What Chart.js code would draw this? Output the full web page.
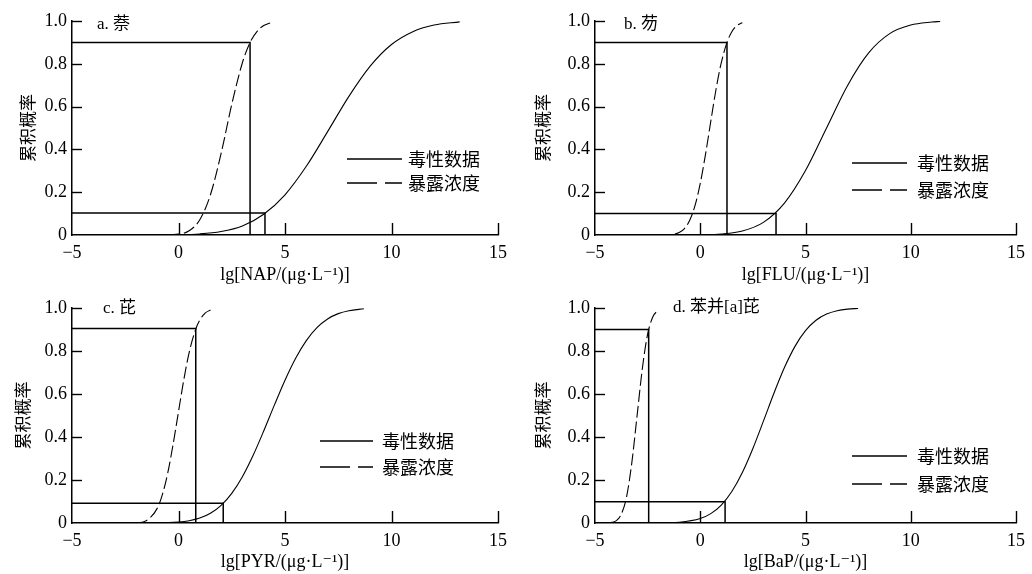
<!DOCTYPE html>
<html><head><meta charset="utf-8">
<script src="https://cdn.jsdelivr.net/npm/chart.js@4.4.1/dist/chart.umd.min.js"></script>
<style>
html,body{margin:0;padding:0;background:#fff;}
#wrap{position:relative;width:1032px;height:574px;overflow:hidden;background:#fff;}
canvas{position:absolute;}
</style></head><body>
<div id="wrap">
<canvas id="cA" width="516" height="287" style="left:0;top:0"></canvas>
<canvas id="cB" width="516" height="287" style="left:516px;top:0"></canvas>
<canvas id="cC" width="516" height="287" style="left:0;top:287px"></canvas>
<canvas id="cD" width="516" height="287" style="left:516px;top:287px"></canvas>
</div>
<script>
// ---- text ----
const panelTitles = ['a. 萘', 'b. 芴', 'c. 芘', 'd. 苯并[a]芘'];
const xAxisTitles = ['lg[NAP/(μg·L⁻¹)]', 'lg[FLU/(μg·L⁻¹)]', 'lg[PYR/(μg·L⁻¹)]', 'lg[BaP/(μg·L⁻¹)]'];
const yAxisTitle = '累积概率';
const seriesNames = ['毒性数据', '暴露浓度'];
const xTickValues = [-5, 0, 5, 10, 15];
const yTickValues = [0, 0.2, 0.4, 0.6, 0.8, 1.0];

// ---- a. NAP ----
const napToxX = [-5, -2, 0, 1, 2, 3, 4, 5, 6, 7, 8, 9, 10, 11, 12, 13.2];
const napToxY = [0, 0.0001, 0.0014, 0.005, 0.016, 0.042, 0.097, 0.188, 0.321, 0.483, 0.648, 0.789, 0.890, 0.950, 0.981, 0.996];
const napExpX = [-5, -1, 0, 0.5, 1.0, 1.5, 2.0, 2.5, 3.0, 3.36, 3.7, 4.0, 4.3];
const napExpY = [0, 0.0001, 0.004, 0.020, 0.071, 0.188, 0.381, 0.610, 0.805, 0.900, 0.953, 0.979, 0.991];

// ---- b. FLU ----
const fluToxX = [-5, -1, 0, 1, 2, 3, 4, 5, 6, 7, 8, 9, 10, 11, 11.4];
const fluToxY = [0, 0.0001, 0.0009, 0.0046, 0.0186, 0.059, 0.149, 0.301, 0.500, 0.699, 0.851, 0.941, 0.981, 0.995, 0.998];
const fluExpX = [-5, -1.5, -1.0, -0.75, -0.5, -0.25, 0, 0.25, 0.5, 0.75, 1.0, 1.27, 1.5, 1.75, 2.0];
const fluExpY = [0, 0.001, 0.012, 0.030, 0.069, 0.137, 0.241, 0.377, 0.531, 0.681, 0.805, 0.900, 0.950, 0.979, 0.992];

// ---- c. PYR ----
const pyrToxX = [-5, -1, 0, 0.5, 1, 1.5, 2, 2.5, 3, 3.5, 4, 4.5, 5, 5.5, 6, 6.5, 7, 7.5, 8, 8.7];
const pyrToxY = [0, 0.0007, 0.0046, 0.0106, 0.0228, 0.0449, 0.0817, 0.1377, 0.2154, 0.3139, 0.4278, 0.5483, 0.6643, 0.7664, 0.8485, 0.9088, 0.9491, 0.9738, 0.9875, 0.9962];
const pyrExpX = [-5, -2.0, -1.5, -1.0, -0.75, -0.5, -0.25, 0, 0.25, 0.5, 0.81, 1.0, 1.25, 1.5];
const pyrExpY = [0, 0.0012, 0.012, 0.068, 0.134, 0.235, 0.368, 0.518, 0.667, 0.793, 0.902, 0.944, 0.976, 0.991];

// ---- d. BaP ----
const bapToxX = [-5, -2, -1, 0, 0.5, 1, 1.5, 2, 2.5, 3, 3.5, 4, 4.5, 5, 5.5, 6, 6.5, 7, 7.5];
const bapToxY = [0, 0.0004, 0.0035, 0.0207, 0.0436, 0.0835, 0.1462, 0.2346, 0.3465, 0.4737, 0.6037, 0.7231, 0.8215, 0.8944, 0.9428, 0.9718, 0.9874, 0.9949, 0.9981];
const bapExpX = [-5, -4.5, -4.0, -3.75, -3.5, -3.25, -3.0, -2.75, -2.5, -2.25, -2.0];
const bapExpY = [0, 0.0002, 0.010, 0.041, 0.122, 0.281, 0.500, 0.719, 0.878, 0.959, 0.990];

// ---- cut-off guide lines (exposure 90 %, toxicity ~10 %) ----
const cutX90 = [3.36, 1.27, 0.81, -2.45];
const cutY90 = [0.90, 0.90, 0.905, 0.90];
const cutX10 = [4.06, 3.60, 2.10, 1.18];
const cutY10 = [0.103, 0.101, 0.092, 0.099];

const toxX = [napToxX, fluToxX, pyrToxX, bapToxX];
const toxY = [napToxY, fluToxY, pyrToxY, bapToxY];
const expX = [napExpX, fluExpX, pyrExpX, bapExpX];
const expY = [napExpY, fluExpY, pyrExpY, bapExpY];

// ---- layout (pixels, local to each canvas) ----
const layouts = [
  {id:'cA', yW:72, xH:52, padR:18, padT:21, yTitlePad:17, title:[97,25], leg:[347,402,408,159,183]},
  {id:'cB', yW:79, xH:52, padR:11, padT:21, yTitlePad:16, title:[108,25], leg:[336,391,401,163,190]},
  {id:'cC', yW:72, xH:51, padR:18, padT:21, yTitlePad:12, title:[103,22], leg:[320,373,382,154,180]},
  {id:'cD', yW:79, xH:51, padR:11, padT:21, yTitlePad:16, title:[157,21], leg:[336,391,401,169,197]}
];

const SERIF = "'Liberation Serif', 'DejaVu Serif', serif";
const CJK = "'Noto Sans CJK SC', sans-serif";
const MIXED = "'Liberation Serif', 'Noto Sans CJK SC', serif";

const pts = (xs, ys) => xs.map((x, i) => ({x, y: ys[i]}));

const inwardTicks = {
  id: 'inwardTicks',
  afterDatasetsDraw(chart) {
    const {ctx, chartArea} = chart;
    const xs = chart.scales.x, ys = chart.scales.y;
    ctx.save();
    ctx.strokeStyle = '#000';
    ctx.lineWidth = 1.4;
    xs.ticks.forEach(t => {
      if (t.value === xs.min) return;
      const px = Math.round(xs.getPixelForValue(t.value)) + 0.5;
      ctx.beginPath(); ctx.moveTo(px, chartArea.bottom); ctx.lineTo(px, chartArea.bottom - 12); ctx.stroke();
    });
    ys.ticks.forEach(t => {
      if (t.value === ys.min) return;
      const py = Math.round(ys.getPixelForValue(t.value)) + 0.5;
      ctx.beginPath(); ctx.moveTo(chartArea.left, py); ctx.lineTo(chartArea.left + 10, py); ctx.stroke();
    });
    ctx.restore();
  }
};

const decor = {
  id: 'decor',
  afterDraw(chart, args, opts) {
    const ctx = chart.ctx;
    ctx.save();
    ctx.fillStyle = '#000';
    ctx.textBaseline = 'middle';
    ctx.textAlign = 'left';
    ctx.font = "17px " + MIXED;
    ctx.fillText(opts.title, opts.tpos[0], opts.tpos[1]);
    const [x1, x2, tx, y1, y2] = opts.leg;
    ctx.strokeStyle = '#000';
    ctx.lineWidth = 1.3;
    ctx.beginPath(); ctx.moveTo(x1, y1); ctx.lineTo(x2, y1); ctx.stroke();
    ctx.setLineDash([30, 8]);
    ctx.beginPath(); ctx.moveTo(x1, y2); ctx.lineTo(x2, y2); ctx.stroke();
    ctx.setLineDash([]);
    ctx.font = "18px " + CJK;
    ctx.fillText(opts.names[0], tx, y1);
    ctx.fillText(opts.names[1], tx, y2);
    ctx.restore();
  }
};

layouts.forEach((L, i) => {
  const guideStyle = {borderColor:'#000', borderWidth:1.5, pointRadius:0, fill:false, tension:0};
  new Chart(document.getElementById(L.id), {
    type: 'line',
    data: {
      datasets: [
        Object.assign({label:'guide90', data: [{x:-5, y:cutY90[i]}, {x:cutX90[i], y:cutY90[i]}, {x:cutX90[i], y:0}]}, guideStyle),
        Object.assign({label:'guide10', data: [{x:-5, y:cutY10[i]}, {x:cutX10[i], y:cutY10[i]}, {x:cutX10[i], y:0}]}, guideStyle),
        {label: seriesNames[0], data: pts(toxX[i], toxY[i]), borderColor:'#000', borderWidth:1.1,
         pointRadius:0, fill:false, cubicInterpolationMode:'monotone'},
        {label: seriesNames[1], data: pts(expX[i], expY[i]), borderColor:'#000', borderWidth:1.1,
         borderDash:[12,4], pointRadius:0, fill:false, cubicInterpolationMode:'monotone'}
      ]
    },
    options: {
      responsive: false,
      animation: false,
      devicePixelRatio: 1,
      layout: {padding: {left:0, top:L.padT, right:L.padR, bottom:0}},
      plugins: {
        legend: {display:false},
        tooltip: {enabled:false},
        decor: {title: panelTitles[i], tpos: L.title, leg: L.leg, names: seriesNames}
      },
      scales: {
        x: {
          type: 'linear', min: xTickValues[0], max: xTickValues[xTickValues.length-1],
          afterBuildTicks: s => { s.ticks = xTickValues.map(v => ({value:v})); },
          afterFit: s => { s.height = L.xH; },
          grid: {display:false, drawTicks:false},
          border: {display:true, color:'#000', width:1.5},
          ticks: {color:'#000', padding:7, maxRotation:0, autoSkip:false,
                  font:{family:SERIF, size:18},
                  callback: v => v < 0 ? '\u2212' + Math.abs(v) : String(v)},
          title: {display:true, text:xAxisTitles[i], color:'#000',
                  font:{family:SERIF, size:18}, padding:{top:0, bottom:1}}
        },
        y: {
          type: 'linear', min: 0, max: 1,
          afterBuildTicks: s => { s.ticks = yTickValues.map(v => ({value:v})); },
          afterFit: s => { s.width = L.yW; },
          grid: {display:false, drawTicks:false},
          border: {display:true, color:'#000', width:1.5},
          ticks: {color:'#000', padding:5, autoSkip:false,
                  font:{family:SERIF, size:18},
                  callback: v => v === 0 ? '0' : Number(v).toFixed(1)},
          title: {display:true, text:yAxisTitle, color:'#000',
                  font:{family:CJK, size:17}, padding:{top:L.yTitlePad, bottom:0}}
        }
      }
    },
    plugins: [inwardTicks, decor]
  });
});
</script>
</body></html>
